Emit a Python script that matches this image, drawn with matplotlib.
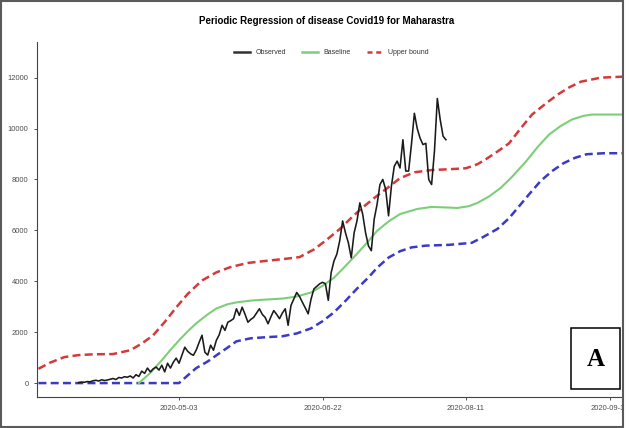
import numpy as np
import pandas as pd
import matplotlib
matplotlib.use("Agg")
import matplotlib.pyplot as plt
from matplotlib.patches import Rectangle

plt.rcParams["font.family"] = ["Liberation Sans", "DejaVu Sans"]

# observed daily cases, one value per day from this date
obs_start = "2020-03-29"
observed = [
    20, 40, 30, 60, 50, 90, 110, 80, 130, 100, 120, 150,
    180, 140, 220, 200, 250, 230, 280, 200, 330, 260, 470, 380,
    590, 440, 560, 630, 510, 700, 440, 780, 590, 820, 980,
    780, 1100, 1410, 1250, 1150, 1090, 1300, 1600, 1880, 1210, 1100,
    1490, 1290, 1680, 1900, 2270, 2070, 2390, 2450, 2530, 2920,
    2660, 2980, 2700, 2390, 2500, 2580, 2750, 2920, 2700, 2580,
    2330, 2600, 2850, 2700, 2530, 2750, 2920, 2270, 3050, 3300,
    3560, 3400, 3170, 2950, 2720, 3300, 3700, 3800, 3900, 3960,
    3900, 3250, 4340, 4800, 5070, 5600, 6370, 5900, 5510, 4920,
    5900, 6370, 7080, 6630, 5900, 5390, 5200, 6440, 7020, 7800,
    8000, 7610, 6570, 7740, 8520, 8720, 8450, 9560, 8330, 8330,
    9400, 10600, 10000, 9620, 9370, 9420, 8000, 7800, 9110, 11180,
    10350, 9700, 9560,
]

# fitted curves, read as (days after 2020-05-03, value)
ref_date = "2020-05-03"
upper_days = [-49, -45, -40, -35, -30, -23, -17, -13, -9, -5, -1, 3, 8, 13, 18, 24,
              31, 37, 42, 47, 51, 56, 60, 64, 68, 73, 77, 82, 88, 94, 100, 104,
              107, 111, 115, 119, 123, 128, 132, 136, 140, 147, 155]
upper = [560, 800, 1020, 1100, 1130, 1140, 1290, 1550, 1880, 2400, 2970, 3500, 4030,
         4350, 4560, 4720, 4810, 4880, 4950, 5250, 5590, 6050, 6490, 6900, 7270,
         7700, 8050, 8280, 8370, 8400, 8440, 8600, 8800, 9100, 9420, 10000, 10550,
         11000, 11340, 11620, 11840, 12000, 12040]

base_days = [-14, -10, -6, -3, 0, 3, 6, 10, 13, 17, 20, 25, 30, 36, 41, 46, 50, 54,
             58, 62, 66, 69, 73, 77, 83, 88, 93, 97, 101, 104, 108, 112, 116, 121,
             125, 129, 133, 137, 141, 144, 155]
baseline = [0, 400, 900, 1300, 1680, 2030, 2350, 2700, 2930, 3100, 3170, 3240, 3280,
            3320, 3400, 3560, 3820, 4140, 4600, 5080, 5580, 5980, 6350, 6640, 6840,
            6920, 6900, 6880, 6950, 7080, 7330, 7660, 8100, 8720, 9280, 9770, 10100,
            10360, 10500, 10550, 10550]

lower_days = [-49, 0, 3, 6, 10, 13, 17, 20, 25, 30, 36, 41, 46, 50, 54, 58, 62, 66,
              69, 73, 77, 81, 86, 94, 102, 106, 111, 115, 118, 122, 126, 130, 134,
              138, 142, 148, 155]
lower = [0, 0, 300, 590, 850, 1090, 1400, 1640, 1760, 1800, 1840, 1950, 2150, 2430,
         2780, 3230, 3710, 4150, 4530, 4930, 5180, 5330, 5400, 5430, 5510, 5740, 6060,
         6480, 6880, 7420, 7940, 8330, 8640, 8850, 8990, 9030, 9030]

tick_dates = ["2020-05-03", "2020-06-22", "2020-08-11", "2020-09-30"]

ref = pd.Timestamp(ref_date)
obs_dates = pd.date_range(obs_start, periods=len(observed), freq="D")
as_dates = lambda days: ref + pd.to_timedelta(days, unit="D")

fig = plt.figure(figsize=(6.29, 4.28), dpi=100)
ax = fig.add_axes([37 / 629, 1 - 397 / 428, 586 / 629, 355 / 428])

dash = (3.2, 1.7)
ax.plot(as_dates(upper_days), upper, color="#d33a3a", lw=1.8, dashes=dash, zorder=2)
ax.plot(as_dates(lower_days), lower, color="#3a3ac4", lw=1.8, dashes=dash, zorder=2)
ax.plot(as_dates(base_days), baseline, color="#7ccf78", lw=1.5, zorder=3)
ax.plot(obs_dates, observed, color="#1a1a1a", lw=1.15, zorder=4)

ax.set_xlim(ref + pd.Timedelta(days=-49.5), ref + pd.Timedelta(days=154.7))
ax.set_ylim(-547, 13400)
ax.set_yticks([0, 2000, 4000, 6000, 8000, 10000, 12000])
ax.set_xticks(pd.to_datetime(tick_dates))
ax.set_xticklabels(tick_dates)
ax.tick_params(labelsize=5.5, colors="#333333", labelcolor="#4d4d4d", length=2.5, width=0.6)
for side in ["top", "right"]:
    ax.spines[side].set_visible(False)
for side in ["left", "bottom"]:
    ax.spines[side].set_color("#444444")
    ax.spines[side].set_linewidth(0.8)

fig.text(0.52, 1 - 21 / 428, "Periodic Regression of disease Covid19 for Maharastra",
         ha="center", va="center", fontsize=7, fontweight="bold")

handles = [
    plt.Line2D([], [], color="#333333", lw=1.8),
    plt.Line2D([], [], color="#7ccf78", lw=1.8),
    plt.Line2D([], [], color="#d33a3a", lw=1.8, dashes=(2, 1.5)),
]
fig.legend(handles, ["Observed", "Baseline", "Upper bound"], loc="center",
           bbox_to_anchor=(0.527, 1 - 53 / 428), ncol=3, frameon=False, fontsize=5,
           handlelength=2.2, handletextpad=0.8, columnspacing=2.4,
           labelcolor="#333333")

# panel label box
box_l, box_t, box_r, box_b = 571, 328, 620, 389
fig.add_artist(Rectangle((box_l / 629, 1 - box_b / 428), (box_r - box_l) / 629,
                         (box_b - box_t) / 428, transform=fig.transFigure,
                         fill=False, ec="black", lw=1.1))
fig.text((box_l + box_r) / 2 / 629, 1 - 359 / 428, "A", ha="center", va="center",
         fontsize=18, fontweight="bold", family="Liberation Serif")

# the picture is a crop: white strip past the frame on the right
fig.add_artist(Rectangle((623 / 629, 0), 6 / 629, 1, transform=fig.transFigure,
                         fc="white", ec="none", zorder=10))
fig.add_artist(Rectangle((0.002, 0.003), 622 / 629, 0.994, transform=fig.transFigure,
                         fill=False, ec="#5a5a5a", lw=1.5, zorder=11))

fig.savefig("out.png", dpi=100)
